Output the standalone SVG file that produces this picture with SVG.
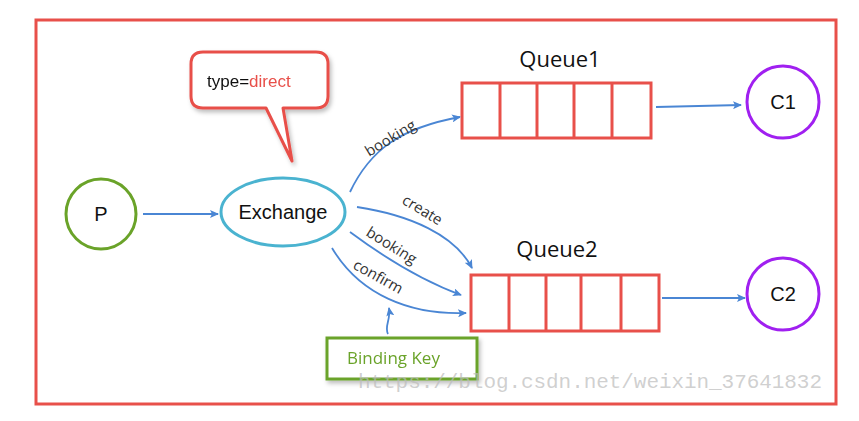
<svg xmlns="http://www.w3.org/2000/svg" width="859" height="421" viewBox="0 0 859 421">
<style>
.frame{fill:#fff;stroke:#e8504a;stroke-width:3}
.q{fill:#fff;stroke:#e8504a;stroke-width:3}
.qd{stroke:#e8504a;stroke-width:3}
.c{fill:#fff;stroke:#a020f0;stroke-width:3}
.e{stroke:#4a86d4;stroke-width:1.8;fill:none;marker-end:url(#ah)}
.t{font-family:"Liberation Sans","Noto Sans",sans-serif;fill:#111}
.lbl{font-family:"Open Sans","Liberation Sans",sans-serif;font-size:15px;fill:#333}
</style>
<defs>
<marker id="ah" markerWidth="10" markerHeight="8" refX="8" refY="4" orient="auto" markerUnits="userSpaceOnUse">
<path d="M0,0 L9,4 L0,8 L2,4 Z" fill="#4a86d4"/>
</marker>
<filter id="sh" x="-10%" y="-10%" width="130%" height="140%">
<feDropShadow dx="2" dy="3" stdDeviation="2" flood-color="#000" flood-opacity="0.25"/>
</filter>
</defs>
<rect class="frame" x="36" y="20" width="800" height="384"/>

<g id="callout" filter="url(#sh)">
<path d="M203,52 H316 Q328,52 328,64 V96 Q328,108 316,108 H283 L292,161 L266,108 H203 Q191,108 191,96 V64 Q191,52 203,52 Z" fill="#fff" stroke="#e8504a" stroke-width="3" stroke-linejoin="round"/>
<text x="207" y="87" class="t" font-size="17"><tspan>type=</tspan><tspan fill="#e8504a">direct</tspan></text>
</g>

<g id="P">
<circle cx="101" cy="214" r="35" fill="#fff" stroke="#6aa329" stroke-width="3"/>
<text x="101" y="221" class="t" font-size="20" text-anchor="middle">P</text>
</g>

<g id="Exchange">
<ellipse cx="283" cy="212" rx="62" ry="34" fill="#fff" stroke="#4ab3d0" stroke-width="3"/>
<text x="283" y="219" class="t" font-size="20" text-anchor="middle">Exchange</text>
</g>

<g id="Queue1">
<text x="560" y="67" font-family="'Open Sans','Liberation Sans',sans-serif" font-size="22" fill="#111" text-anchor="middle">Queue1</text>
<rect class="q" x="462" y="83" width="189" height="55"/>
<line class="qd" x1="500" y1="83" x2="500" y2="138"/>
<line class="qd" x1="537" y1="83" x2="537" y2="138"/>
<line class="qd" x1="574" y1="83" x2="574" y2="138"/>
<line class="qd" x1="612" y1="83" x2="612" y2="138"/>
</g>

<g id="Queue2">
<text x="557" y="257" font-family="'Open Sans','Liberation Sans',sans-serif" font-size="22" fill="#111" text-anchor="middle">Queue2</text>
<rect class="q" x="471" y="275" width="188" height="56"/>
<line class="qd" x1="509" y1="275" x2="509" y2="331"/>
<line class="qd" x1="546" y1="275" x2="546" y2="331"/>
<line class="qd" x1="581" y1="275" x2="581" y2="331"/>
<line class="qd" x1="621" y1="275" x2="621" y2="331"/>
</g>

<g id="C1">
<circle class="c" cx="783" cy="102" r="36"/>
<text x="783" y="109" class="t" font-size="20" text-anchor="middle">C1</text>
</g>

<g id="C2">
<circle class="c" cx="783" cy="294" r="36"/>
<text x="783" y="301" class="t" font-size="20" text-anchor="middle">C2</text>
</g>

<g id="BindingKey" filter="url(#sh)">
<rect x="327" y="338" width="150" height="41" fill="#fff" stroke="#6aa329" stroke-width="3"/>
<text x="347" y="364" font-family="'Open Sans','Liberation Sans',sans-serif" font-size="17" fill="#6aa329">Binding Key</text>
</g>

<g id="connectors">
<line class="e" x1="143" y1="214" x2="218" y2="214"/>
<path class="e" d="M350,192 C370,150 400,128 460,117"/>
<path class="e" d="M357,207 C410,215 455,235 472,268"/>
<path class="e" d="M350,232 C385,258 420,280 461,295"/>
<path class="e" d="M332,248 C360,295 410,315 466,313"/>
<line class="e" x1="656" y1="107" x2="741" y2="105"/>
<line class="e" x1="662" y1="298" x2="745" y2="298"/>
<path class="e" d="M388,334 C384,326 391,320 389,308"/>
</g>

<g id="labels">
<text class="lbl" transform="translate(369,157) rotate(-31)">booking</text>
<text class="lbl" transform="translate(401,203) rotate(31)">create</text>
<text class="lbl" transform="translate(365,235) rotate(32)">booking</text>
<text class="lbl" transform="translate(352,268) rotate(29)">confirm</text>
</g>

<text x="358" y="388" font-family="'Liberation Mono',monospace" font-size="21" fill="#bbb" fill-opacity="0.7" textLength="464">https://blog.csdn.net/weixin_37641832</text>
</svg>
